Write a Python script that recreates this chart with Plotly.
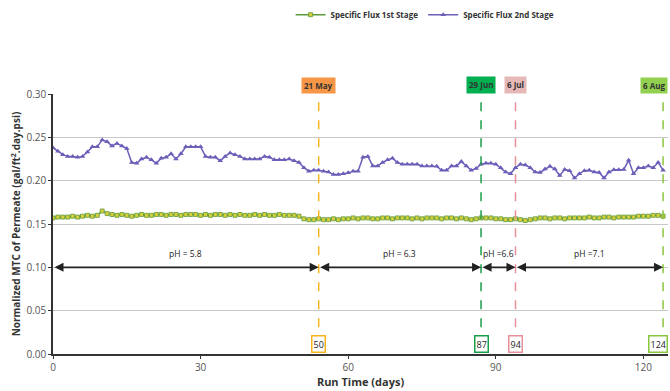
import plotly.graph_objects as go

days = list(range(0, 125))

flux_2nd = [
    0.238, 0.234, 0.230, 0.228, 0.228, 0.227, 0.228, 0.233, 0.239, 0.239,
    0.247, 0.245, 0.240, 0.243, 0.240, 0.237, 0.221, 0.220, 0.225, 0.227,
    0.224, 0.220, 0.226, 0.227, 0.231, 0.225, 0.231, 0.239, 0.239, 0.239,
    0.239, 0.228, 0.227, 0.227, 0.223, 0.228, 0.232, 0.230, 0.228, 0.225,
    0.225, 0.225, 0.225, 0.228, 0.227, 0.224, 0.224, 0.224, 0.225, 0.223,
    0.221, 0.215, 0.211, 0.212, 0.212, 0.211, 0.210, 0.207, 0.207, 0.208,
    0.209, 0.211, 0.211, 0.227, 0.228, 0.217, 0.217, 0.221, 0.224, 0.226,
    0.221, 0.219, 0.219, 0.219, 0.219, 0.217, 0.217, 0.217, 0.2165, 0.212,
    0.212, 0.217, 0.217, 0.222, 0.217, 0.212, 0.214, 0.219, 0.220, 0.220,
    0.219, 0.215, 0.210, 0.208, 0.215, 0.219, 0.218, 0.215, 0.210, 0.2095,
    0.2135, 0.2165, 0.2135, 0.206, 0.213, 0.2115, 0.203, 0.208, 0.2115, 0.212,
    0.210, 0.2095, 0.203, 0.210, 0.2125, 0.2125, 0.213, 0.2235, 0.208, 0.215,
    0.215, 0.217, 0.215, 0.221, 0.212,
]

flux_1st = [
    0.157, 0.158, 0.158, 0.158, 0.159, 0.158, 0.159, 0.160, 0.159, 0.160,
    0.165, 0.162, 0.161, 0.160, 0.161, 0.160, 0.159, 0.160, 0.161, 0.160,
    0.160, 0.161, 0.161, 0.160, 0.161, 0.161, 0.160, 0.161, 0.161, 0.161,
    0.160, 0.161, 0.160, 0.161, 0.161, 0.160, 0.161, 0.160, 0.161, 0.160,
    0.160, 0.161, 0.160, 0.161, 0.160, 0.160, 0.161, 0.160, 0.160, 0.160,
    0.159, 0.156, 0.155, 0.155, 0.156, 0.155, 0.155, 0.156, 0.155, 0.156,
    0.156, 0.157, 0.156, 0.157, 0.157, 0.156, 0.156, 0.157, 0.157, 0.156,
    0.157, 0.157, 0.157, 0.156, 0.157, 0.156, 0.157, 0.157, 0.157, 0.156,
    0.157, 0.157, 0.156, 0.157, 0.156, 0.155, 0.156, 0.157, 0.157, 0.157,
    0.156, 0.156, 0.155, 0.155, 0.156, 0.155, 0.154, 0.155, 0.156, 0.157,
    0.157, 0.156, 0.157, 0.157, 0.156, 0.157, 0.157, 0.157, 0.157, 0.158,
    0.157, 0.157, 0.158, 0.158, 0.157, 0.158, 0.158, 0.158, 0.158, 0.159,
    0.159, 0.159, 0.160, 0.160, 0.159,
]

# event markers
event_days = [54, 87, 94, 124]
event_day_labels = ["50", "87", "94", "124"]
event_dates = ["21 May", "29 Jun", "6 Jul", "6 Aug"]
event_colors = ["#F5B41E", "#1A9E4B", "#E8909A", "#8CC63F"]
date_fills = ["#F79646", "#00B050", "#E6B9B8", "#92D050"]

# pH ranges
ph_starts = [0, 54, 87, 94]
ph_ends = [54, 87, 94, 124]
ph_labels = ["pH = 5.8", "pH = 6.3", "pH =6.6", "pH =7.1"]
ph_level = 0.10

FONT = "Open Sans"

fig = go.Figure()
fig.add_trace(go.Scatter(
    x=days, y=flux_1st, mode="lines+markers", name="<b>Specific Flux 1st Stage</b>",
    line=dict(color="#5B9B3C", width=1.5),
    marker=dict(symbol="square", size=4, color="#D9CF3A", line=dict(color="#5B9B3C", width=0.8)),
))
fig.add_trace(go.Scatter(
    x=days, y=flux_2nd, mode="lines+markers", name="<b>Specific Flux 2nd Stage</b>",
    line=dict(color="#6A5FB8", width=1.5),
    marker=dict(symbol="triangle-up", size=5, color="#6A5FB8"),
))

shapes = []
annotations = []
n_ev = len(event_days)
for i, (d, lab, date, col, fill) in enumerate(zip(event_days, event_day_labels, event_dates, event_colors, date_fills)):
    last = (i == n_ev - 1)
    shapes.append(dict(type="line", xref="x", yref="y", x0=d, x1=d, y0=0.01, y1=0.30,
                       line=dict(color=col, width=1.5, dash="dash")))
    annotations.append(dict(x=d, y=0, xref="x", yref="y", text=lab, showarrow=False,
                            yanchor="bottom", yshift=1, bgcolor="white", bordercolor=col,
                            borderwidth=1.5, borderpad=1,
                            xanchor="right" if last else "center", xshift=5 if last else 0,
                            font=dict(family=FONT, size=9, color="#222")))
    annotations.append(dict(x=d, y=1, xref="x", yref="paper", text="<b>" + date + "</b>",
                            showarrow=False, yanchor="bottom", bgcolor=fill, borderpad=2,
                            xanchor="right" if last else "center", xshift=5 if last else 0,
                            font=dict(family=FONT, size=8, color="#333")))

for s, e, lab in zip(ph_starts, ph_ends, ph_labels):
    annotations.append(dict(x=e, y=ph_level, ax=s, ay=ph_level, xref="x", yref="y",
                            axref="x", ayref="y", text="", showarrow=True,
                            arrowhead=2, startarrowhead=2, arrowside="end+start",
                            arrowsize=1, arrowwidth=1.8, arrowcolor="#222",
                            standoff=0, startstandoff=0))
    annotations.append(dict(x=(s + e) / 2, y=ph_level, xref="x", yref="y", text=lab,
                            showarrow=False, yanchor="bottom", yshift=6,
                            font=dict(family=FONT, size=8.5, color="#222")))

fig.update_layout(
    width=670, height=391,
    margin=dict(l=53, r=2, t=93, b=37),
    plot_bgcolor="white", paper_bgcolor="white",
    shapes=shapes, annotations=annotations,
    legend=dict(orientation="h", x=0.605, xanchor="center", y=1.30, yanchor="middle",
                font=dict(family=FONT, size=8, color="#333"), bgcolor="rgba(0,0,0,0)",
                itemwidth=30),
    xaxis=dict(range=[0, 125], tickvals=[0, 30, 60, 90, 120], showgrid=False,
               showline=True, linecolor="#333", linewidth=1.5, ticks="outside",
               ticklen=3, tickcolor="#333", zeroline=False,
               tickfont=dict(family=FONT, size=10, color="#555"),
               title=dict(text="<b>Run Time (days)</b>", standoff=4,
                          font=dict(family=FONT, size=11, color="#333"))),
    yaxis=dict(range=[0, 0.30], tickvals=[0, 0.05, 0.10, 0.15, 0.20, 0.25, 0.30],
               tickformat=".2f", showgrid=True, gridcolor="#C8C8C8", gridwidth=1,
               showline=True, linecolor="#333", linewidth=1.5, ticks="outside",
               ticklen=3, tickcolor="#333", zeroline=False,
               tickfont=dict(family=FONT, size=10, color="#555"),
               title=dict(text="<b>Normalized MTC of Permeate (gal/ft<sup>2</sup>.day.psi)</b>",
                          standoff=4, font=dict(family=FONT, size=10, color="#333"))),
)

fig.write_html("out.html")
